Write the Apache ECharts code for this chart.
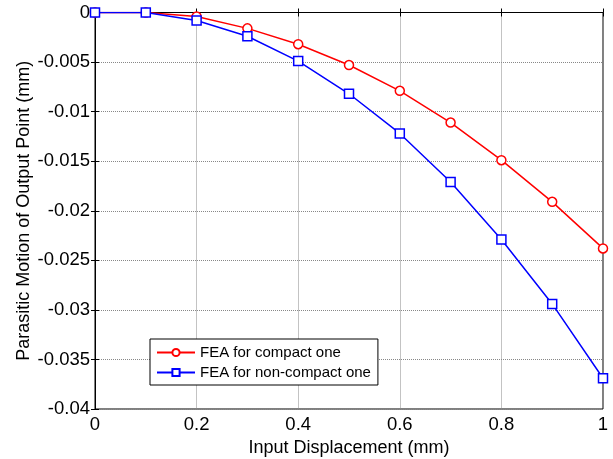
<!DOCTYPE html>
<html><head><meta charset="utf-8">
<script src="https://cdn.jsdelivr.net/npm/echarts@6/dist/echarts.min.js"></script>
<style>html,body{margin:0;padding:0;background:#fff}#c{width:613px;height:459px}</style>
</head><body><div id="c"></div>
<script>
const xValues = [0, 0.1, 0.2, 0.3, 0.4, 0.5, 0.6, 0.7, 0.8, 0.9, 1.0];
const compact = [0, 0, -0.0004, -0.0016, -0.0032, -0.0053, -0.0079, -0.0111, -0.0149, -0.0191, -0.0238];
const nonCompact = [0, 0, -0.0008, -0.0024, -0.0049, -0.0082, -0.0122, -0.0171, -0.0229, -0.0294, -0.0369];
const seriesNames = ['FEA for compact one', 'FEA for non-compact one'];
const xTitle = 'Input Displacement (mm)';
const yTitle = 'Parasitic Motion of Output Point (mm)';

const font = 'Liberation Sans, Arial, sans-serif';
const chart = echarts.init(document.getElementById('c'));
const pairs = arr => xValues.map((x, i) => [x, arr[i]]);
const axisCommon = {
  axisLine: {lineStyle: {color: '#000', width: 1}},
  axisTick: {inside: true, length: 4, lineStyle: {color: '#000'}},
};
chart.setOption({
  animation: false,
  grid: {left: 95, right: 10, top: 12.5, bottom: 50, show: true, borderColor: '#000', borderWidth: 1,
    containLabel: false, outerBoundsMode: 'none'},
  xAxis: [{
    type: 'value', min: 0, max: 1, interval: 0.2,
    name: xTitle, nameLocation: 'middle', nameGap: 30, nameMoveOverlap: false,
    nameTextStyle: {fontFamily: font, fontSize: 18, color: '#000'},
    axisLabel: {fontFamily: font, fontSize: 18.5, color: '#000', margin: 6,
      formatter: v => String(Math.round(v * 10) / 10)},
    splitLine: {show: true, lineStyle: {color: '#888', type: 'dotted', width: 1}},
    ...axisCommon
  }, {
    type: 'value', min: 0, max: 1, interval: 0.2, position: 'top',
    axisLabel: {show: false}, splitLine: {show: false}, ...axisCommon
  }],
  yAxis: [{
    type: 'value', min: -0.04, max: 0, interval: 0.005,
    name: yTitle, nameLocation: 'middle', nameGap: 62, nameMoveOverlap: false,
    nameTextStyle: {fontFamily: font, fontSize: 18, color: '#000'},
    axisLabel: {fontFamily: font, fontSize: 18.5, color: '#000', margin: 5,
      formatter: v => v === 0 ? '0' : String(parseFloat(v.toFixed(3)))},
    splitLine: {show: true, lineStyle: {color: '#888', type: 'dotted', width: 1}},
    ...axisCommon
  }, {
    type: 'value', min: -0.04, max: 0, interval: 0.005, position: 'right',
    axisLabel: {show: false}, splitLine: {show: false}, ...axisCommon
  }],
  legend: {
    orient: 'vertical', left: 150, top: 339,
    backgroundColor: '#fff', borderColor: '#000', borderWidth: 1,
    padding: [6, 7, 5, 6], itemGap: 5, itemWidth: 38, itemHeight: 9,
    textStyle: {fontFamily: font, fontSize: 15, color: '#000'},
    data: seriesNames
  },
  series: [{
    name: seriesNames[0], type: 'line', data: pairs(compact),
    symbol: 'circle', symbolSize: 9,
    itemStyle: {color: '#fff', borderColor: '#ff0000', borderWidth: 1.5},
    lineStyle: {color: '#ff0000', width: 1.5}, color: '#ff0000', z: 3
  }, {
    name: seriesNames[1], type: 'line', data: pairs(nonCompact),
    symbol: 'rect', symbolSize: 9,
    itemStyle: {color: '#fff', borderColor: '#0000ff', borderWidth: 1.5},
    lineStyle: {color: '#0000ff', width: 1.5}, color: '#0000ff', z: 4
  }]
});
</script></body></html>
